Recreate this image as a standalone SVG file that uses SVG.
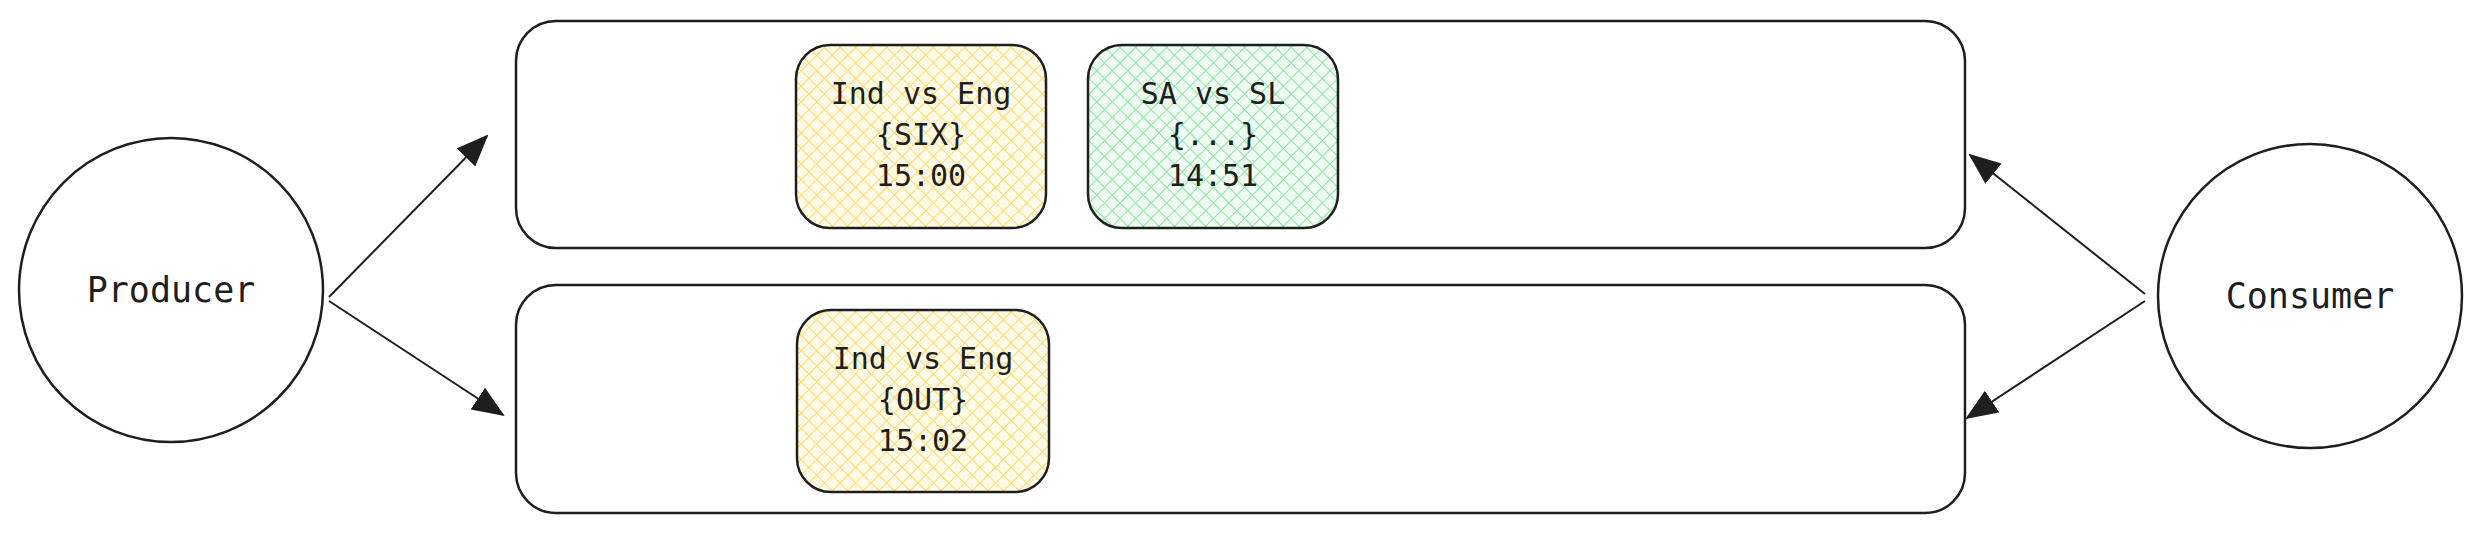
<svg xmlns="http://www.w3.org/2000/svg" width="2481" height="533" viewBox="0 0 2481 533">
<style>
.s{fill:none;stroke:#1e1e1e;stroke-width:2.5}
.t{font-family:"DejaVu Sans Mono","Liberation Mono",monospace;fill:#1e1e1e;text-anchor:middle}
.c{stroke:#1e1e1e;stroke-width:2;fill:none}
</style>
<defs>
<pattern id="hy" width="11" height="11" patternUnits="userSpaceOnUse" patternTransform="rotate(45)"><rect width="11" height="11" fill="#fffbe8"/><path d="M0 0V11M0 0H11" stroke="#ffd866" stroke-width="2"/></pattern>
<pattern id="hg" width="11" height="11" patternUnits="userSpaceOnUse" patternTransform="rotate(45)"><rect width="11" height="11" fill="#eefcf2"/><path d="M0 0V11M0 0H11" stroke="#8fe2a8" stroke-width="2"/></pattern>
<marker id="a" markerWidth="32" markerHeight="26" refX="30" refY="13" orient="auto" markerUnits="userSpaceOnUse" viewBox="0 0 32 26"><path d="M0 0L32 13L0 26z" fill="#1e1e1e"/></marker>
</defs>
<rect width="2481" height="533" fill="#fff"/>
<g id="topic1"><rect class="s" x="516" y="21" width="1449" height="227" rx="40"/></g>
<g id="topic2"><rect class="s" x="516" y="285" width="1449" height="228" rx="40"/></g>
<g id="producer"><circle class="s" cx="171" cy="290" r="152"/><text class="t" x="171" y="302" font-size="35">Producer</text></g>
<g id="consumer"><circle class="s" cx="2310" cy="296" r="152"/><text class="t" x="2310" y="308" font-size="35">Consumer</text></g>
<g id="msg1"><rect class="s" x="796" y="45" width="250" height="183" rx="34" style="fill:url(#hy)"/>
<text class="t" font-size="30"><tspan x="921" y="104">Ind vs Eng</tspan><tspan x="921" y="145">{SIX}</tspan><tspan x="921" y="186">15:00</tspan></text></g>
<g id="msg2"><rect class="s" x="1088" y="45" width="250" height="183" rx="34" style="fill:url(#hg)"/>
<text class="t" font-size="30"><tspan x="1213" y="104">SA vs SL</tspan><tspan x="1213" y="145">{...}</tspan><tspan x="1213" y="186">14:51</tspan></text></g>
<g id="msg3"><rect class="s" x="797" y="310" width="252" height="182" rx="34" style="fill:url(#hy)"/>
<text class="t" font-size="30"><tspan x="923" y="369">Ind vs Eng</tspan><tspan x="923" y="410">{OUT}</tspan><tspan x="923" y="451">15:02</tspan></text></g>
<g id="connectors">
<line class="c" x1="329" y1="297" x2="487" y2="136" marker-end="url(#a)"/>
<line class="c" x1="329" y1="301" x2="503" y2="415" marker-end="url(#a)"/>
<line class="c" x1="2145" y1="294" x2="1970" y2="155" marker-end="url(#a)"/>
<line class="c" x1="2145" y1="301" x2="1967" y2="418" marker-end="url(#a)"/>
</g>
</svg>
